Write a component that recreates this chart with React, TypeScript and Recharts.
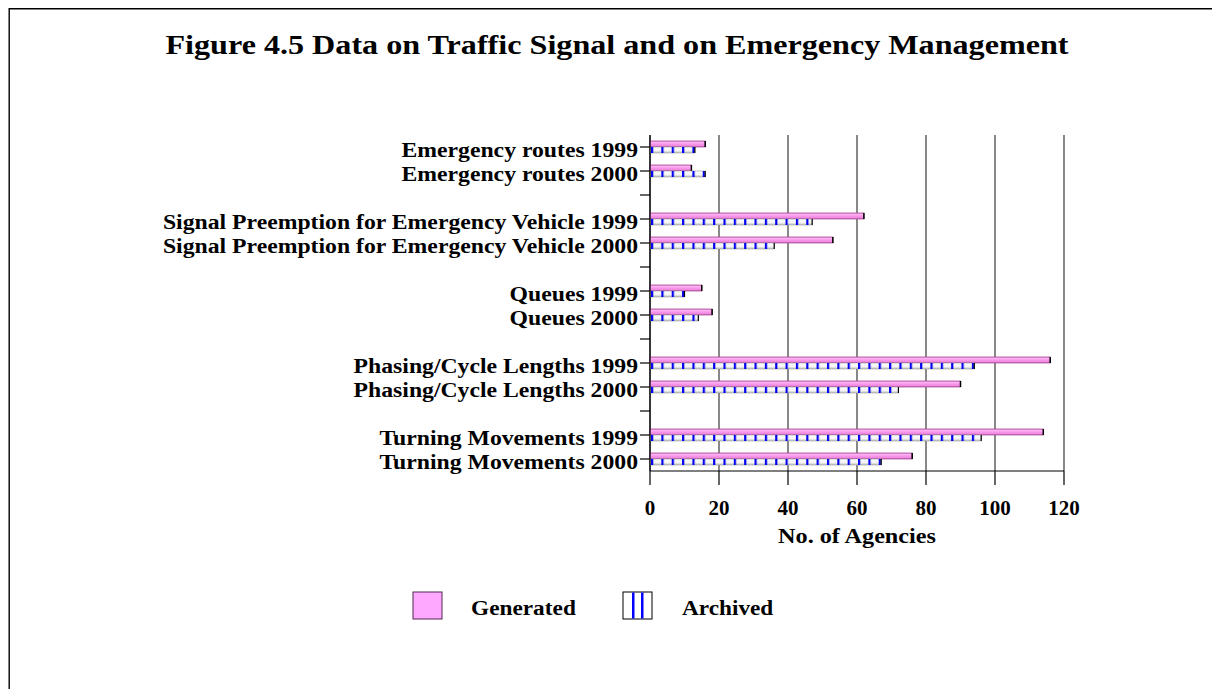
import { BarChart, Bar, XAxis, YAxis, CartesianGrid } from 'recharts';

const categories = [
  'Emergency routes',
  'Signal Preemption for Emergency Vehicle',
  'Queues',
  'Phasing/Cycle Lengths',
  'Turning Movements',
];
const years = ['1999', '2000'];
const generated1999 = [16, 62, 15, 116, 114];
const generated2000 = [12, 53, 18, 90, 76];
const archived1999 = [13, 47, 10, 94, 96];
const archived2000 = [16, 36, 14, 72, 67];
const xTicks = [0, 20, 40, 60, 80, 100, 120];

const FONT = '"Liberation Serif", "Times New Roman", serif';

const rows: { key: string; label: string; generated?: number; archived?: number }[] = [];
categories.forEach((cat, i) => {
  rows.push({ key: `r${i}a`, label: `${cat} ${years[0]}`, generated: generated1999[i], archived: archived1999[i] });
  rows.push({ key: `r${i}b`, label: `${cat} ${years[1]}`, generated: generated2000[i], archived: archived2000[i] });
  if (i < categories.length - 1) rows.push({ key: `gap${i}`, label: '' });
});
const labelByKey: Record<string, string> = {};
rows.forEach((r) => (labelByKey[r.key] = r.label));

// the source text is a little wider than Liberation Serif, so stretch it horizontally
const Wide = ({ x, y, sx, size, anchor = 'start', children }: any) => (
  <text
    transform={`translate(${x},${y}) scale(${sx},1)`}
    textAnchor={anchor}
    fontFamily={FONT}
    fontWeight="bold"
    fontSize={size}
    fill="#000"
  >
    {children}
  </text>
);

const GeneratedShape = (props: any) => {
  const { x, y, width, height } = props;
  if (!width || width <= 0) return null;
  return (
    <g>
      <rect x={x} y={y} width={width} height={height} fill="url(#pinkGrad)" stroke="#b0509a" strokeWidth={0.8} />
      <line x1={x + width} y1={y} x2={x + width} y2={y + height} stroke="#000" strokeWidth={1.5} />
    </g>
  );
};

const ArchivedShape = (props: any) => {
  const { x, y, width, height } = props;
  if (!width || width <= 0) return null;
  return (
    <g>
      <rect x={x} y={y} width={width} height={height} fill="url(#grayGrad)" stroke="#999" strokeWidth={0.6} />
      <rect x={x} y={y} width={width} height={height} fill="url(#blueDash)" />
      <line x1={x + width} y1={y} x2={x + width} y2={y + height} stroke="#000" strokeWidth={1.2} />
    </g>
  );
};

const YTick = ({ x, y, payload }: any) => (
  <Wide x={x} y={y + 10} sx={1.078} size={22} anchor="end">
    {labelByKey[payload.value]}
  </Wide>
);

const XTick = ({ x, y, payload }: any) => (
  <text x={x} y={y} dy={28} textAnchor="middle" fontFamily={FONT} fontWeight="bold" fontSize={21} fill="#000">
    {payload.value}
  </text>
);

export default function App() {
  return (
    <div style={{ position: 'relative', width: 1212, height: 681 }}>
      <div style={{ position: 'absolute', left: 0, top: 0 }}>
        <BarChart
          width={1212}
          height={681}
          data={rows}
          layout="vertical"
          barSize={6}
          barGap={0}
          margin={{ top: 127, right: 156, bottom: 118, left: 0 }}
        >
          <defs>
            <linearGradient id="pinkGrad" x1="0" y1="0" x2="0" y2="1">
              <stop offset="0%" stopColor="#e27ccd" />
              <stop offset="20%" stopColor="#ffb5f5" />
              <stop offset="55%" stopColor="#f795ea" />
              <stop offset="85%" stopColor="#ea84da" />
              <stop offset="100%" stopColor="#b5509d" />
            </linearGradient>
            <linearGradient id="grayGrad" x1="0" y1="0" x2="0" y2="1">
              <stop offset="0%" stopColor="#ffffff" />
              <stop offset="60%" stopColor="#f4f4f4" />
              <stop offset="100%" stopColor="#bdbdbd" />
            </linearGradient>
            <pattern id="blueDash" patternUnits="userSpaceOnUse" x={643} y={0} width={10.35} height={681}>
              <rect x={0} y={0} width={2.2} height={681} fill="#0000ee" />
            </pattern>
          </defs>
          <CartesianGrid horizontal={false} stroke="#3a3a3a" strokeWidth={1.2} />
          <XAxis
            type="number"
            domain={[0, 120]}
            ticks={xTicks}
            interval={0}
            height={100}
            tickSize={14}
            axisLine={{ stroke: '#000', strokeWidth: 1.2 }}
            tickLine={{ stroke: '#000', strokeWidth: 1.2 }}
            tick={<XTick />}
          />
          <YAxis
            type="category"
            dataKey="key"
            width={642}
            interval={0}
            tickSize={10}
            axisLine={{ stroke: '#000', strokeWidth: 1.2 }}
            tickLine={{ stroke: '#000', strokeWidth: 1.2 }}
            tick={<YTick />}
          />
          <Bar dataKey="generated" shape={<GeneratedShape />} isAnimationActive={false} />
          <Bar dataKey="archived" shape={<ArchivedShape />} isAnimationActive={false} />
        </BarChart>
      </div>
      <svg
        width={1212}
        height={681}
        style={{ position: 'absolute', left: 0, top: 0, pointerEvents: 'none' }}
      >
        <line x1={1} y1={0.7} x2={1212} y2={0.7} stroke="#000" strokeWidth={1.4} />
        <line x1={1.2} y1={0} x2={1.2} y2={681} stroke="#000" strokeWidth={1.4} />
        <Wide x={609} y={46} sx={1.148} size={28} anchor="middle">
          Figure 4.5 Data on Traffic Signal and on Emergency Management
        </Wide>
        <Wide x={849} y={535} sx={1.1} size={22} anchor="middle">
          No. of Agencies
        </Wide>
        <rect x={405} y={584} width={29} height={27} fill="#ffa8ff" stroke="#502850" strokeWidth={1} />
        <Wide x={463} y={607} sx={1.06} size={22}>
          Generated
        </Wide>
        <rect x={615} y={584} width={29} height={27} fill="#fff" stroke="#000" strokeWidth={1} />
        <rect x={624} y={584.5} width={2.5} height={26} fill="#0000ff" />
        <rect x={633} y={584.5} width={2.5} height={26} fill="#0000ff" />
        <Wide x={674} y={607} sx={1.058} size={22}>
          Archived
        </Wide>
      </svg>
    </div>
  );
}
